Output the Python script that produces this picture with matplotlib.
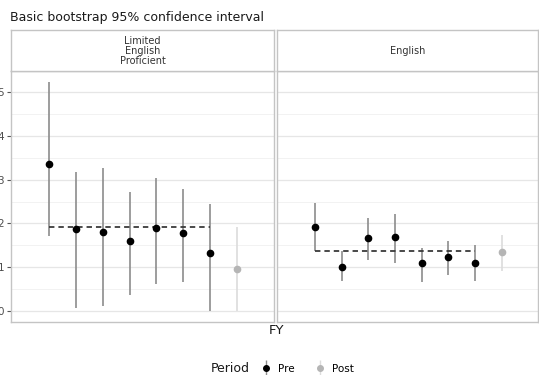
import numpy as np
import matplotlib.pyplot as plt
from matplotlib.lines import Line2D
from matplotlib.legend_handler import HandlerTuple

# data
groups = ["Limited\nEnglish\nProficient", "English"]
periods = ["Pre"] * 7 + ["Post"]
lep_est = [3.35, 1.87, 1.80, 1.60, 1.89, 1.78, 1.33, 0.97]
lep_lo = [1.72, 0.08, 0.12, 0.37, 0.62, 0.66, 0.00, 0.00]
lep_hi = [5.23, 3.17, 3.26, 2.71, 3.03, 2.79, 2.44, 1.92]
lep_mean = 1.93
eng_est = [1.93, 1.01, 1.66, 1.68, 1.10, 1.23, 1.09, 1.34]
eng_lo = [1.37, 0.68, 1.16, 1.10, 0.66, 0.82, 0.68, 0.92]
eng_hi = [2.47, 1.37, 2.12, 2.21, 1.45, 1.61, 1.50, 1.74]
eng_mean = 1.37

est = [lep_est, eng_est]
lo = [lep_lo, eng_lo]
hi = [lep_hi, eng_hi]
means = [lep_mean, eng_mean]

pt_col = {"Pre": "black", "Post": "#b5b5b5"}
ln_col = {"Pre": "#8c8c8c", "Post": "#dcdcdc"}
border = "#c4c4c4"

fig = plt.figure(figsize=(5.39, 3.75), dpi=100)
W, H = 539, 375
panels = [(11, 274), (277, 538)]
top, bot, strip_top = 71, 322, 30

axes = []
for i, (x0, x1) in enumerate(panels):
    ax = fig.add_axes([x0 / W, 1 - bot / H, (x1 - x0) / W, (bot - top) / H])
    sax = fig.add_axes([x0 / W, 1 - top / H, (x1 - x0) / W, (top - strip_top) / H])
    sax.set_xticks([])
    sax.set_yticks([])
    for s in sax.spines.values():
        s.set_color(border)
        s.set_linewidth(1.0)
    sax.text(0.5, 0.5, groups[i], ha="center", va="center", fontsize=7,
             color="#333333", linespacing=1.0, transform=sax.transAxes)

    x = np.arange(1, len(est[i]) + 1)
    for j in range(len(x)):
        p = periods[j]
        ax.vlines(x[j], lo[i][j], hi[i][j], color=ln_col[p], lw=1.2, zorder=2)
        ax.plot(x[j], est[i][j], "o", color=pt_col[p], ms=4.5, zorder=3)
    n_pre = periods.count("Pre")
    ax.hlines(means[i], x[0], x[n_pre - 1], color="#3a3a3a", lw=1.3,
              linestyles=(0, (3, 2.2)), zorder=2)

    ax.set_xlim(-0.415, 9.35 if i else 9.38)
    ax.set_ylim(-0.25, 5.48)
    ax.set_yticks(range(0, 6))
    ax.set_yticks(np.arange(0.5, 5.5, 1), minor=True)
    ax.set_xticks([])
    ax.grid(True, which="major", axis="y", color="#e6e6e6", lw=0.9)
    ax.grid(True, which="minor", axis="y", color="#f0f0f0", lw=0.6)
    ax.set_axisbelow(True)
    for s in ax.spines.values():
        s.set_color(border)
        s.set_linewidth(1.0)
    if i == 0:
        ax.tick_params(axis="y", which="major", length=3, width=0.8,
                       color="#555555", labelsize=7.5, labelcolor="#4d4d4d", pad=2)
        ax.tick_params(axis="y", which="minor", length=0)
    else:
        ax.tick_params(axis="y", which="both", length=0, labelleft=False)
    axes.append(ax)

fig.text(10 / W, 1 - 17 / H, "Basic bootstrap 95% confidence interval",
         fontsize=9, ha="left", va="center", color="#1a1a1a")
fig.text(276 / W, 1 - 331 / H, "FY", fontsize=9.5, ha="center", va="center",
         color="#1a1a1a")
fig.text(250 / W, 1 - 369 / H, "Period", fontsize=9, ha="right", va="center",
         color="#1a1a1a")

handles = []
for p in ["Pre", "Post"]:
    bar = Line2D([], [], ls="none", marker="|", ms=11, mew=1.0, color=ln_col[p])
    dot = Line2D([], [], ls="none", marker="o", ms=4, color=pt_col[p])
    handles.append((bar, dot))
fig.legend(handles, ["Pre", "Post"], ncol=2, frameon=False, fontsize=7.5,
           loc="center left", bbox_to_anchor=(250 / W, 1 - 369 / H),
           handler_map={tuple: HandlerTuple(ndivide=1, pad=0)},
           handlelength=1.2, handletextpad=0.6, columnspacing=1.8)

fig.savefig("out.png", dpi=100)
